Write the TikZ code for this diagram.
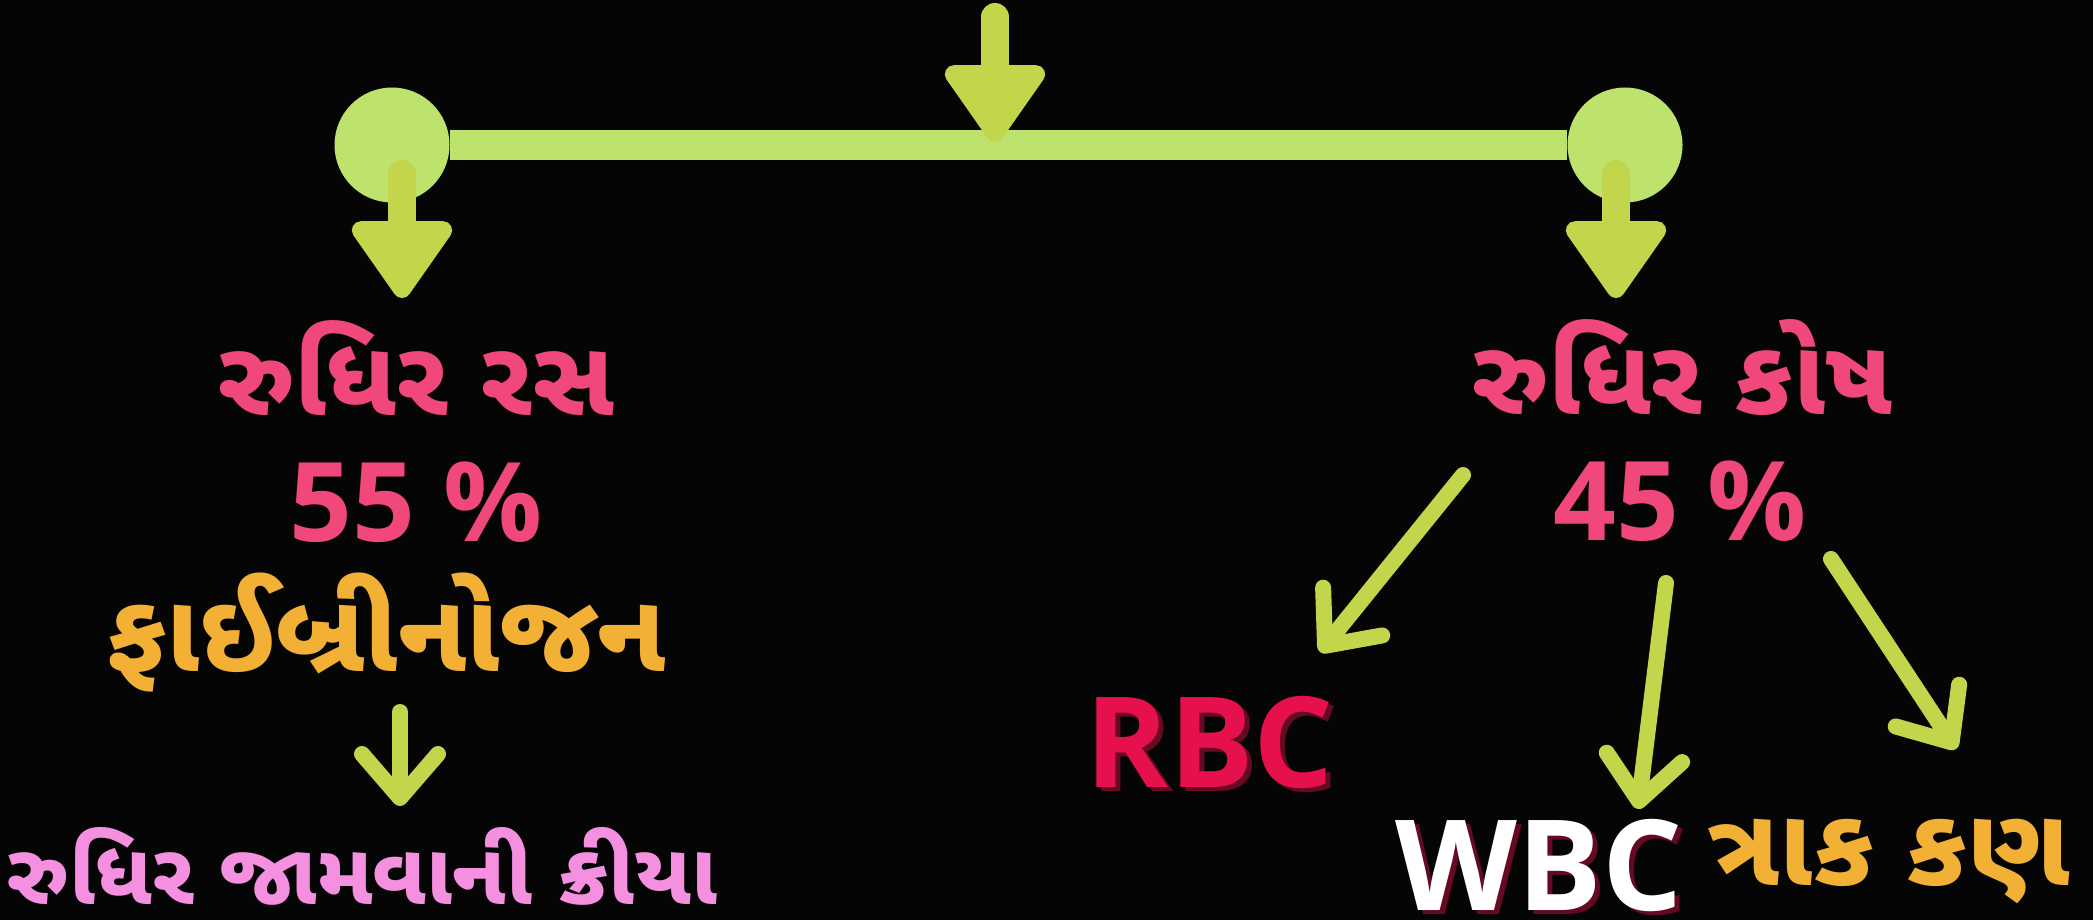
\documentclass[tikz,border=0pt]{standalone}
\usepackage{fontspec}
\usetikzlibrary{arrows.meta,calc}
\newfontfamily\guj[Script=Gujarati]{Noto Sans Gujarati UI}
\newfontfamily\osans{Open Sans}
\definecolor{barc}{HTML}{BEE36C}
\definecolor{arrc}{HTML}{C2D54B}
\definecolor{rosec}{HTML}{F0487A}
\definecolor{orangec}{HTML}{F2B035}
\definecolor{lilac}{HTML}{F590E0}
\definecolor{rbcc}{HTML}{E5104C}
\definecolor{shadowc}{HTML}{650A22}
\tikzstyle{txtbase}=[inner sep=0pt, text centered]
\tikzstyle{gujtext}=[txtbase, font=\guj\bfseries\fontsize{53}{60}\selectfont]
\tikzstyle{numtext}=[txtbase, font=\osans\bfseries\fontsize{55}{62}\selectfont, text=rosec]
\tikzstyle{celltext}=[txtbase, font=\osans\bfseries\fontsize{63}{70}\selectfont]
\tikzstyle{bigarrow}=[line width=14pt, draw=arrc, line cap=round,
                      -{Triangle[length=42pt,width=56pt,round,line width=9pt]}]
\tikzstyle{thinarrow}=[line width=8pt, draw=arrc, line cap=round,
                       -{Straight Barb[length=22pt,width=38pt,round]}]
\tikzstyle{joint}=[circle, fill=barc, minimum size=57.5pt, inner sep=0pt]

\begin{document}
\begin{tikzpicture}[x=0.5pt, y=-0.5pt]
    \fill[black!98] (0,0) rectangle (2093,920);
    \useasboundingbox (0,0) rectangle (2093,920);

    % splitting bar
    \node[joint] (lj) at (392,145) {};
    \node[joint] (rj) at (1625,145) {};
    \draw[barc, line width=14.5pt] (lj) -- (rj);

    \coordinate (src) at (995,17);
    \coordinate (barin) at (995,142);
    \coordinate (lstart) at (402,174);
    \coordinate (lend) at (402,298);
    \coordinate (rstart) at (1616,174);
    \coordinate (rend) at (1616,298);
    \draw[bigarrow] (src) -- (barin);
    \draw[bigarrow] (lstart) -- (lend);
    \draw[bigarrow] (rstart) -- (rend);

    % plasma side
    \node[gujtext, text=rosec] (plasma) at (416,368) {રુધિર રસ};
    \node[numtext] (p55) at (416,502) {55 \%};
    \node[gujtext, text=orangec, font=\guj\bfseries\fontsize{55}{62}\selectfont] (fib) at (386,632) {ફાઈબ્રીનોજન};
    \node[gujtext, text=lilac, font=\guj\bfseries\fontsize{43}{50}\selectfont] (clot) at (362,866) {રુધિર જામવાની ક્રીયા};

    % cell side
    \node[gujtext, text=rosec] (cells) at (1682,368) {રુધિર કોષ};
    \node[numtext] (c45) at (1680,501) {45 \%};
    \node[celltext, text=shadowc] (rbcs) at (1215,746) {RBC};
    \node[celltext, text=rbcc] (rbc) at (1210,742) {RBC};
    \node[celltext, text=shadowc] (wbcs) at (1544,869) {WBC};
    \node[celltext, text=white] (wbc) at (1539,865) {WBC};
    \node[gujtext, text=orangec, font=\guj\bfseries\fontsize{55}{62}\selectfont] (plate) at (1889,862) {ત્રાક કણ};

    \coordinate (fibout) at (400,712);
    \coordinate (clotin) at (400,806);
    \coordinate (rbcout) at (1463,475);
    \coordinate (rbcin) at (1320,652);
    \coordinate (wbcout) at (1666,583);
    \coordinate (wbcin) at (1638,809);
    \coordinate (plateout) at (1831,559);
    \coordinate (platein) at (1956,749);
    \draw[thinarrow] (fibout) -- (clotin);
    \draw[thinarrow] (rbcout) -- (rbcin);
    \draw[thinarrow] (wbcout) -- (wbcin);
    \draw[thinarrow] (plateout) -- (platein);
\end{tikzpicture}
\end{document}
